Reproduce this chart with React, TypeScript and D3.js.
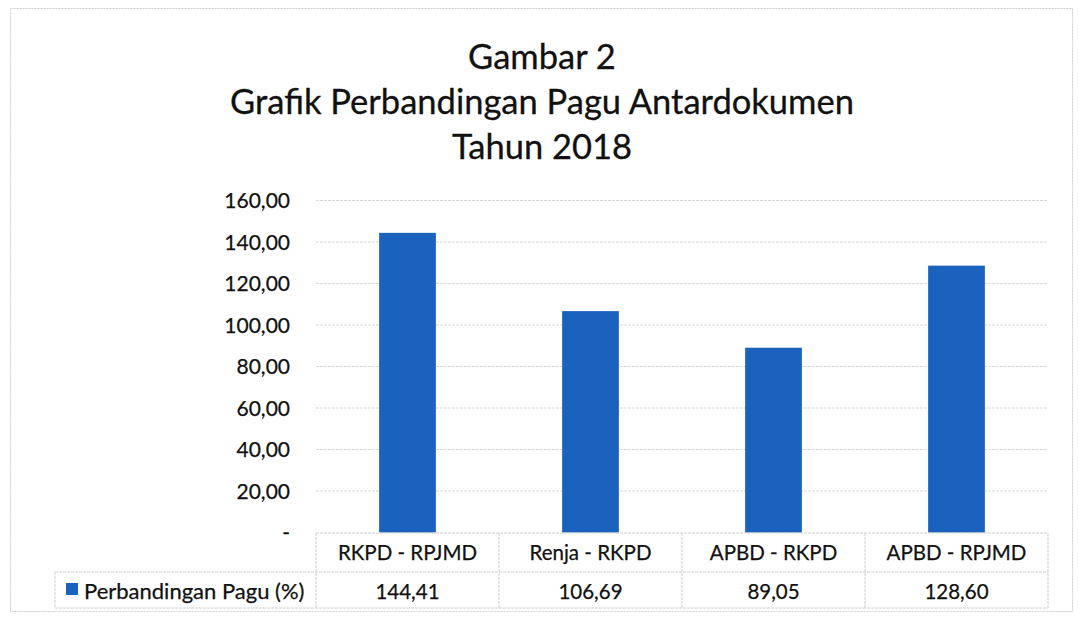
import React from "react";
import * as d3 from "d3";

const titleLines = ["Gambar 2", "Grafik Perbandingan Pagu Antardokumen", "Tahun 2018"];
const categories = ["RKPD - RPJMD", "Renja - RKPD", "APBD - RKPD", "APBD - RPJMD"];
const values = [144.41, 106.69, 89.05, 128.6];
const seriesName = "Perbandingan Pagu (%)";
const yTicks = [0, 20, 40, 60, 80, 100, 120, 140, 160];

const W = 1078, H = 618;
const plotLeft = 316, plotRight = 1048;
const plotTop = 200.5, plotBottom = 532.5;
const blue = "#1a62be";
const font = "Lato, 'Open Sans', sans-serif";
const ink = "#111";

const fmt = (v: number) => (v === 0 ? "-" : v.toFixed(2).replace(".", ","));

export default function App() {
  const x = d3.scaleBand<string>().domain(categories).range([plotLeft, plotRight]).paddingInner(0).paddingOuter(0);
  const y = d3.scaleLinear().domain([0, 160]).range([plotBottom, plotTop]);
  const bw = x.bandwidth();
  const barW = bw * 0.31;
  const row1Top = 533, row1Bot = 572, row2Bot = 608;
  const legendLeft = 55;

  return (
    <svg width={W} height={H} style={{ position: "absolute", left: 0, top: 0, background: "#fff" }}>
      <rect x={10.5} y={8.5} width={1062} height={603} fill="#fff" stroke="#cfcfcf" strokeDasharray="2,1" />
      {titleLines.map((t, i) => (
        <text key={i} x={542} y={69 + i * 45} textAnchor="middle" fontFamily={font} fontSize={34.5} fill={ink} stroke={ink} strokeWidth={0.3}>{t}</text>
      ))}
      {yTicks.filter(t => t > 0).map(t => (
        <line key={t} x1={plotLeft} x2={plotRight} y1={y(t)} y2={y(t)} stroke="#d8d8d8" strokeWidth={1} strokeDasharray="3,1" />
      ))}
      {yTicks.map(t => (
        <text key={"l" + t} x={290} y={y(t) + 7.5} textAnchor="end" fontFamily={font} fontSize={21} fill={ink} stroke={ink} strokeWidth={0.25}>{fmt(t)}</text>
      ))}
      {categories.map((c, i) => (
        <rect key={c} x={(x(c) as number) + bw / 2 - barW / 2} y={y(values[i])} width={barW} height={plotBottom - y(values[i])} fill={blue} />
      ))}
      {/* data table */}
      <g stroke="#cfcfcf" strokeWidth={1} strokeDasharray="3,1" fill="none">
        <line x1={plotLeft} x2={plotRight} y1={row1Top} y2={row1Top} />
        <line x1={legendLeft} x2={plotRight} y1={row1Bot} y2={row1Bot} />
        <line x1={legendLeft} x2={plotRight} y1={row2Bot} y2={row2Bot} />
        <line x1={legendLeft} x2={legendLeft} y1={row1Bot} y2={row2Bot} />
        {categories.map(c => (
          <line key={c} x1={x(c) as number} x2={x(c) as number} y1={row1Top} y2={row2Bot} />
        ))}
        <line x1={plotRight} x2={plotRight} y1={row1Top} y2={row2Bot} />
      </g>
      {categories.map((c, i) => (
        <g key={"t" + c}>
          <text x={(x(c) as number) + bw / 2} y={row1Top + 27} textAnchor="middle" fontFamily={font} fontSize={20.5} fill={ink} stroke={ink} strokeWidth={0.25}>{c}</text>
          <text x={(x(c) as number) + bw / 2} y={row1Bot + 27} textAnchor="middle" fontFamily={font} fontSize={20.5} fill={ink} stroke={ink} strokeWidth={0.25}>{fmt(values[i])}</text>
        </g>
      ))}
      <rect x={66} y={583} width={12} height={12} fill={blue} />
      <text x={84} y={row1Bot + 27} fontFamily={font} fontSize={22} fill={ink} stroke={ink} strokeWidth={0.25}>{seriesName}</text>
    </svg>
  );
}
